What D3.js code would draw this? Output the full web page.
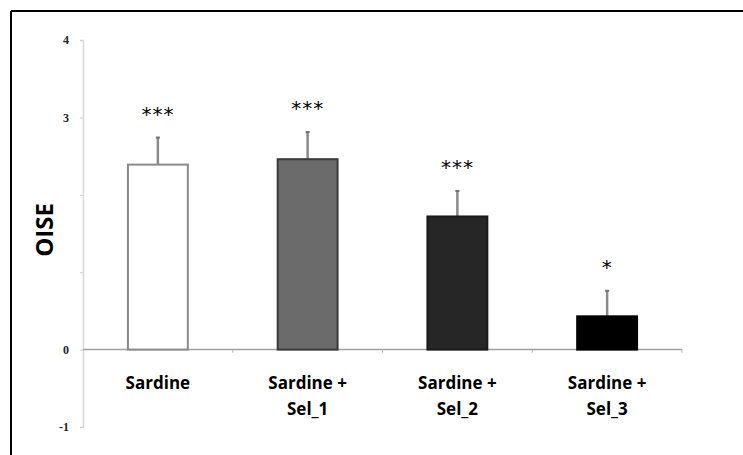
<!DOCTYPE html>
<html>
<head>
<meta charset="utf-8">
<script src="https://cdn.jsdelivr.net/npm/d3@7"></script>
<style>
  body { margin: 0; background: #fff; }
  svg { display: block; }
</style>
</head>
<body>
<div id="chartDiv"></div>
<script>
var categories = ["Sardine", "Sardine + Sel_1", "Sardine + Sel_2", "Sardine + Sel_3"];
var labelLines = [["Sardine"], ["Sardine +", "Sel_1"], ["Sardine +", "Sel_2"], ["Sardine +", "Sel_3"]];
var means = [2.39, 2.46, 1.72, 0.43];
var errors = [0.35, 0.35, 0.33, 0.33];
var stars = ["***", "***", "***", "*"];
var fills = ["#ffffff", "#6b6b6b", "#262626", "#000000"];
var strokes = ["#8a8a8a", "#3a3a3a", "#1a1a1a", "#000000"];
var yTicks = [-1, 0, 1, 2, 3, 4];
var yTickLabels = {"-1": "-1", "0": "0", "1": "", "2": "", "3": "3", "4": "4"};

var svg = d3.select("#chartDiv").append("svg")
    .attr("width", 743)
    .attr("height", 455);

var margin = {top: 40, left: 83, right: 61, bottom: 28};
var width = 743 - margin.left - margin.right,
    height = 455 - margin.top - margin.bottom;

// frame (only top and left edges show)
svg.append("line").attr("x1", 11).attr("x2", 743).attr("y1", 11).attr("y2", 11)
    .attr("stroke", "#000").attr("stroke-width", 2);
svg.append("line").attr("x1", 11).attr("x2", 11).attr("y1", 11).attr("y2", 455)
    .attr("stroke", "#000").attr("stroke-width", 2);

var g = svg.append("g").attr("transform", "translate(" + margin.left + "," + margin.top + ")");

var x_scale = d3.scaleBand().domain(categories).range([0, width]).paddingInner(0.6).paddingOuter(0.3);
var y_scale = d3.scaleLinear().domain([-1, 4]).range([height, 0]);

// y axis
var yAxis = d3.axisLeft(y_scale).tickValues(yTicks).tickSize(3).tickPadding(11)
    .tickFormat(function(d){ return yTickLabels[d]; });
var yGroup = g.append("g").call(yAxis);
yGroup.select(".domain").attr("stroke", "#d8d8d8").attr("stroke-width", 1.5);
yGroup.selectAll(".tick line").attr("stroke", "#cfcfcf");
yGroup.selectAll(".tick text")
    .attr("font-family", "Liberation Serif, serif")
    .attr("font-weight", "bold")
    .attr("font-size", 12)
    .attr("fill", "#222");

// x axis at zero
var xGroup = g.append("g").attr("transform", "translate(0," + y_scale(0) + ")");
xGroup.append("line").attr("x1", 0).attr("x2", width).attr("y1", 0).attr("y2", 0)
    .attr("stroke", "#a0a0a0").attr("stroke-width", 1.5);
var step = x_scale.step();
xGroup.selectAll(".xtick").data(categories).enter().append("line")
    .attr("class", "xtick")
    .attr("x1", function(d){ return x_scale(d) - x_scale.paddingInner() * step / 2 + step; })
    .attr("x2", function(d){ return x_scale(d) - x_scale.paddingInner() * step / 2 + step; })
    .attr("y1", 0).attr("y2", 3)
    .attr("stroke", "#b0b0b0");

// bars
var data = categories.map(function(c, i){ return {cat: c, v: means[i], e: errors[i], s: stars[i], i: i}; });

g.selectAll(".err").data(data).enter().append("line")
    .attr("class", "err")
    .attr("x1", function(d){ return x_scale(d.cat) + x_scale.bandwidth() / 2; })
    .attr("x2", function(d){ return x_scale(d.cat) + x_scale.bandwidth() / 2; })
    .attr("y1", function(d){ return y_scale(d.v); })
    .attr("y2", function(d){ return y_scale(d.v + d.e); })
    .attr("stroke", "#8a8a8a").attr("stroke-width", 2.5);

g.selectAll(".errcap").data(data).enter().append("line")
    .attr("class", "errcap")
    .attr("x1", function(d){ return x_scale(d.cat) + x_scale.bandwidth() / 2 - 2; })
    .attr("x2", function(d){ return x_scale(d.cat) + x_scale.bandwidth() / 2 + 2; })
    .attr("y1", function(d){ return y_scale(d.v + d.e); })
    .attr("y2", function(d){ return y_scale(d.v + d.e); })
    .attr("stroke", "#707070").attr("stroke-width", 2);

g.selectAll(".bar").data(data).enter().append("rect")
    .attr("class", "bar")
    .attr("x", function(d){ return x_scale(d.cat); })
    .attr("width", x_scale.bandwidth())
    .attr("y", function(d){ return y_scale(d.v); })
    .attr("height", function(d){ return y_scale(0) - y_scale(d.v); })
    .attr("fill", function(d){ return fills[d.i]; })
    .attr("stroke", function(d){ return strokes[d.i]; })
    .attr("stroke-width", 2);

// significance stars
g.selectAll(".star").data(data).enter().append("text")
    .attr("class", "star")
    .attr("x", function(d){ return x_scale(d.cat) + x_scale.bandwidth() / 2; })
    .attr("y", function(d){ return y_scale(d.v + d.e) - 17; })
    .attr("text-anchor", "middle")
    .attr("font-family", "DejaVu Sans, sans-serif")
    .attr("font-size", 20)
    .attr("letter-spacing", 1)
    .attr("fill", "#000")
    .text(function(d){ return d.s; });

// category labels
var lab = g.selectAll(".xlab").data(data).enter().append("text")
    .attr("class", "xlab")
    .attr("x", function(d){ return x_scale(d.cat) + x_scale.bandwidth() / 2; })
    .attr("y", y_scale(0) + 39)
    .attr("text-anchor", "middle")
    .attr("font-family", "Open Sans, sans-serif")
    .attr("font-weight", "bold")
    .attr("font-size", 17)
    .attr("fill", "#000");
lab.selectAll("tspan").data(function(d){ return labelLines[d.i].map(function(t){ return {t: t, x: x_scale(d.cat) + x_scale.bandwidth() / 2}; }); })
    .enter().append("tspan")
    .attr("x", function(d){ return d.x; })
    .attr("dy", function(d, j){ return j === 0 ? 0 : 26; })
    .text(function(d){ return d.t; });

// y axis title
svg.append("text")
    .attr("transform", "translate(53,230) rotate(-90)")
    .attr("text-anchor", "middle")
    .attr("font-family", "Open Sans, sans-serif")
    .attr("font-weight", "bold")
    .attr("font-size", 24)
    .attr("fill", "#000")
    .text("OISE");
</script>
</body>
</html>
